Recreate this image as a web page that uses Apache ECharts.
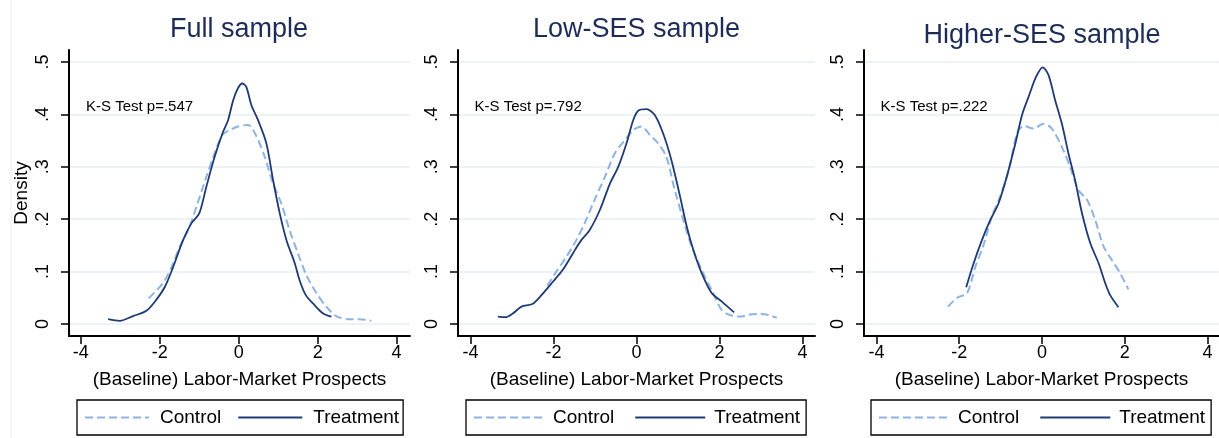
<!DOCTYPE html>
<html>
<head>
<meta charset="utf-8">
<script src="https://cdn.jsdelivr.net/npm/echarts@6/dist/echarts.min.js"></script>
<style>
html,body{margin:0;padding:0;background:#fff;}
#chart{width:1219px;height:438px;}
</style>
</head>
<body>
<div id="chart"></div>
<script>
// ---- data ----
var panelTitles = ['Full sample', 'Low-SES sample', 'Higher-SES sample'];
var ksLabels = ['K-S Test p=.547', 'K-S Test p=.792', 'K-S Test p=.222'];
var seriesNames = ['Control', 'Treatment'];
var xTicks = [-4, -2, 0, 2, 4];
var yTicks = [0, 0.1, 0.2, 0.3, 0.4, 0.5];
var xAxisTitle = '(Baseline) Labor-Market Prospects';
var yAxisTitle = 'Density';

var fullControl = [[-2.28,0.049],[-1.92,0.078],[-1.70,0.109],[-1.49,0.148],[-1.28,0.179],[-1.07,0.224],[-0.82,0.281],[-0.61,0.326],[-0.41,0.361],[-0.23,0.370],[-0.02,0.377],[0.24,0.380],[0.45,0.358],[0.66,0.319],[0.87,0.268],[1.08,0.230],[1.29,0.179],[1.50,0.135],[1.71,0.094],[1.97,0.059],[2.22,0.033],[2.47,0.015],[2.81,0.009],[3.06,0.009],[3.36,0.006]];
var fullTreatment = [[-3.31,0.009],[-3.01,0.006],[-2.68,0.015],[-2.34,0.025],[-2.08,0.047],[-1.87,0.071],[-1.66,0.109],[-1.41,0.160],[-1.20,0.192],[-1.00,0.211],[-0.82,0.262],[-0.61,0.319],[-0.41,0.364],[-0.27,0.389],[-0.14,0.427],[-0.02,0.450],[0.09,0.459],[0.19,0.453],[0.32,0.418],[0.49,0.389],[0.70,0.345],[0.87,0.275],[1.04,0.211],[1.21,0.160],[1.42,0.116],[1.54,0.084],[1.70,0.055],[1.92,0.036],[2.14,0.020],[2.35,0.014]];

var lowControl = [[-2.15,0.073],[-1.93,0.100],[-1.69,0.128],[-1.45,0.160],[-1.25,0.192],[-1.01,0.237],[-0.76,0.281],[-0.52,0.326],[-0.28,0.351],[-0.08,0.370],[0.12,0.377],[0.32,0.361],[0.52,0.345],[0.72,0.319],[0.92,0.256],[1.13,0.198],[1.33,0.148],[1.57,0.103],[1.81,0.065],[2.05,0.027],[2.25,0.017],[2.49,0.014],[2.73,0.018],[2.98,0.019],[3.18,0.017],[3.38,0.012]];
var lowTreatment = [[-3.34,0.014],[-3.16,0.013],[-2.98,0.020],[-2.77,0.033],[-2.51,0.038],[-2.29,0.055],[-2.01,0.081],[-1.77,0.104],[-1.53,0.135],[-1.33,0.160],[-1.13,0.179],[-0.88,0.218],[-0.64,0.268],[-0.44,0.300],[-0.24,0.345],[-0.08,0.389],[0.04,0.407],[0.24,0.410],[0.44,0.399],[0.64,0.364],[0.84,0.313],[1.05,0.243],[1.21,0.186],[1.37,0.141],[1.57,0.097],[1.81,0.059],[2.05,0.043],[2.35,0.022]];

var highControl = [[-2.27,0.033],[-2.05,0.050],[-1.81,0.059],[-1.61,0.109],[-1.41,0.151],[-1.21,0.205],[-1.01,0.243],[-0.80,0.294],[-0.60,0.364],[-0.44,0.378],[-0.20,0.373],[0.04,0.382],[0.24,0.373],[0.48,0.338],[0.68,0.300],[0.88,0.256],[1.09,0.237],[1.29,0.198],[1.49,0.148],[1.69,0.122],[1.89,0.097],[2.09,0.066]];
var highTreatment = [[-1.83,0.070],[-1.65,0.116],[-1.45,0.160],[-1.25,0.198],[-1.05,0.230],[-0.85,0.281],[-0.64,0.345],[-0.48,0.399],[-0.32,0.434],[-0.14,0.472],[0.02,0.490],[0.16,0.475],[0.32,0.427],[0.48,0.383],[0.64,0.326],[0.80,0.275],[0.97,0.211],[1.17,0.154],[1.37,0.116],[1.53,0.078],[1.65,0.055],[1.85,0.032]];

var ksPos = [[-3.87, 0.414], [-3.90, 0.414], [-3.90, 0.414]];
var xRanges = [[-4.30, 4.34], [-4.30, 4.30], [-4.30, 4.28]];
var yRange = [-0.023, 0.523];

// ---- layout / style ----
var FONT = '"Liberation Sans", Arial, Helvetica, sans-serif';
var CTRL = '#8db4e2';
var TREAT = '#1f3b73';
var grids = [
  {left: 69, top: 50, width: 341, height: 286},
  {left: 458, top: 50, width: 357, height: 286},
  {left: 864, top: 50, width: 355, height: 286}
];
var titleCenters = [[239, 30], [636.5, 30], [1042, 36]];
var legendBoxes = [
  {left: 77, top: 400, itemWidth: 64, itemGap: 16, textPad: 6, padding: [8, 4, 8, 7]},
  {left: 466, top: 400, itemWidth: 70, itemGap: 20, textPad: 4, padding: [8, 6, 8, 7]},
  {left: 871, top: 400, itemWidth: 70, itemGap: 20, textPad: 4, padding: [8, 6, 8, 7]}
];
var panelData = [[fullControl, fullTreatment], [lowControl, lowTreatment], [highControl, highTreatment]];

function yFmt(v) { return v === 0 ? '0' : String(v).replace(/^0\./, '.'); }

var option = {
  animation: false,
  backgroundColor: '#fff',
  textStyle: {fontFamily: FONT},
  title: [], grid: grids, xAxis: [], yAxis: [], legend: [], series: [],
  graphic: [{type: 'line', shape: {x1: 11, y1: 0, x2: 11, y2: 438}, style: {stroke: '#eeeeee', lineWidth: 1}}]
};

for (var i = 0; i < 3; i++) {
  option.title.push({
    text: panelTitles[i], left: titleCenters[i][0], top: titleCenters[i][1],
    textAlign: 'center', textVerticalAlign: 'middle', padding: 0,
    textStyle: {fontFamily: FONT, fontSize: 27, fontWeight: 'normal', color: '#1c2b58'}
  });
  option.xAxis.push({
    type: 'value', gridIndex: i, min: xRanges[i][0], max: xRanges[i][1],
    name: xAxisTitle, nameLocation: 'middle', nameGap: 34,
    nameTextStyle: {fontFamily: FONT, fontSize: 19, color: '#000'},
    axisLine: {show: true, onZero: false, lineStyle: {color: '#000', width: 2}},
    axisTick: {show: true, customValues: xTicks, length: 8, lineStyle: {color: '#000', width: 1.5}},
    axisLabel: {customValues: xTicks, fontFamily: FONT, fontSize: 18, color: '#000', margin: 8,
      formatter: function (v) { return String(v); }},
    splitLine: {show: false}
  });
  option.yAxis.push({
    type: 'value', gridIndex: i, min: yRange[0], max: yRange[1],
    name: i === 0 ? yAxisTitle : '', nameLocation: 'middle', nameGap: 38, nameMoveOverlap: false,
    nameTextStyle: {fontFamily: FONT, fontSize: 19, color: '#000'},
    axisLine: {show: true, onZero: false, lineStyle: {color: '#000', width: 2}},
    axisTick: {show: true, customValues: yTicks, length: 8, lineStyle: {color: '#000', width: 1.5}},
    axisLabel: {customValues: yTicks, rotate: 90, fontFamily: FONT, fontSize: 18, color: '#000', margin: 17, formatter: yFmt},
    splitLine: {show: true, lineStyle: {color: '#e6eef2', width: 1.6}}
  });
  var lb = legendBoxes[i];
  option.legend.push({
    data: seriesNames, left: lb.left, top: lb.top, orient: 'horizontal',
    itemWidth: lb.itemWidth, itemHeight: 14, itemGap: lb.itemGap, padding: lb.padding,
    borderColor: '#000', borderWidth: 1.3, borderRadius: 0,
    itemStyle: {opacity: 0, borderWidth: 0},
    textStyle: {fontFamily: FONT, fontSize: 19, color: '#000', padding: [0, 0, 0, lb.textPad]},
    selectedMode: false
  });
  option.series.push({
    name: seriesNames[0], type: 'line', xAxisIndex: i, yAxisIndex: i,
    data: panelData[i][0], symbol: 'none', smooth: 0.3, z: 2,
    lineStyle: {color: CTRL, width: 2, type: [8, 4]}, itemStyle: {color: CTRL},
    markPoint: {
      symbol: 'circle', symbolSize: 0, silent: true,
      label: {show: true, position: 'right', distance: 0, fontFamily: FONT, fontSize: 15, color: '#000',
        formatter: ksLabels[i]},
      data: [{coord: ksPos[i]}]
    }
  });
  option.series.push({
    name: seriesNames[1], type: 'line', xAxisIndex: i, yAxisIndex: i,
    data: panelData[i][1], symbol: 'none', smooth: 0.3, z: 3,
    lineStyle: {color: TREAT, width: 1.8}, itemStyle: {color: TREAT}
  });
}

var chart = echarts.init(document.getElementById('chart'), null, {renderer: 'canvas'});
chart.setOption(option);
</script>
</body>
</html>
